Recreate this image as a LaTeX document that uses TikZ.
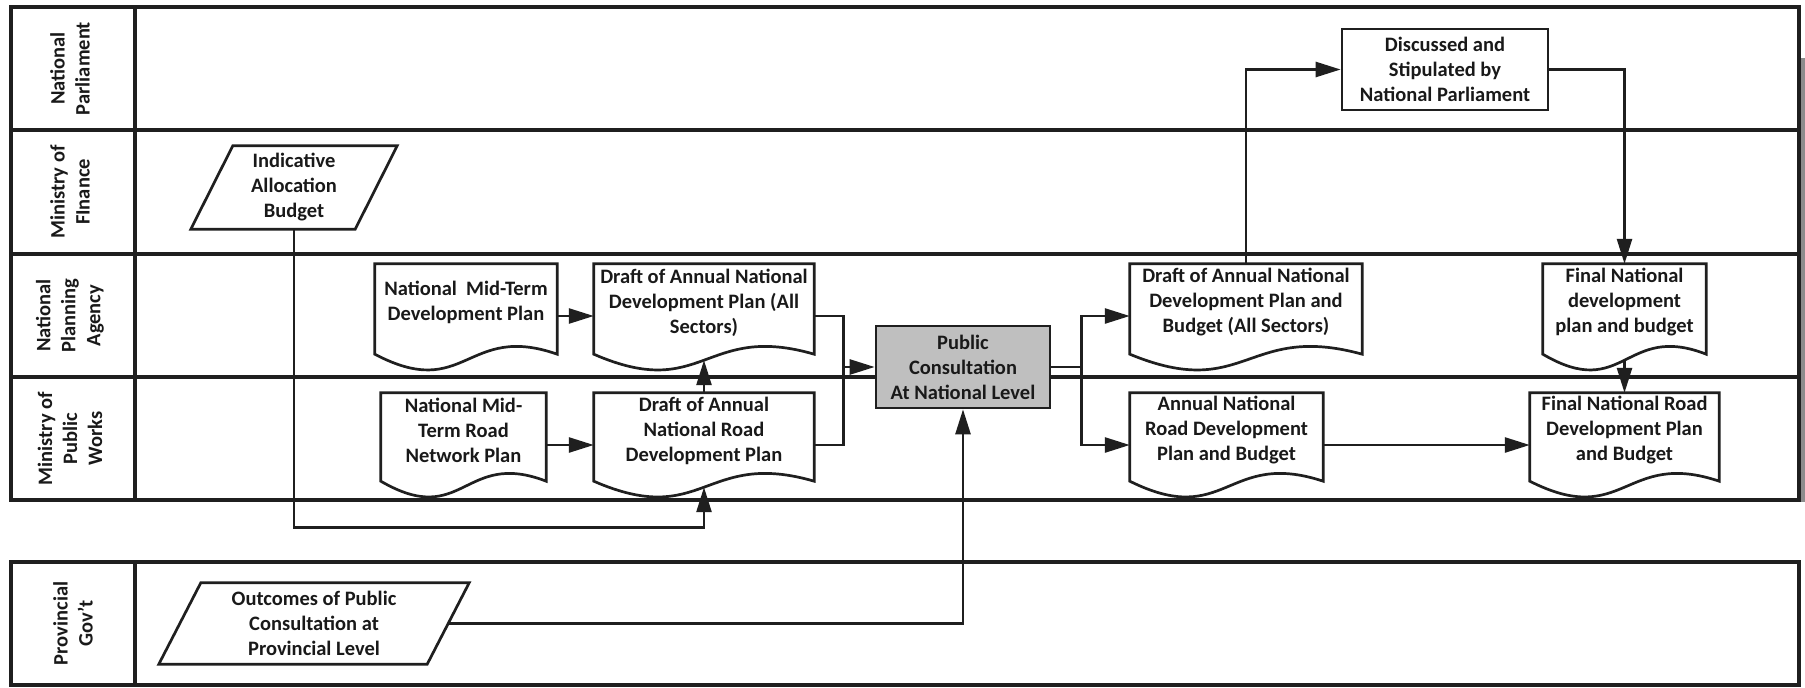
\documentclass[tikz,border=0pt]{standalone}
\usepackage{fontspec}
\setmainfont{Carlito}
\usetikzlibrary{arrows.meta,calc}
\newcommand{\docnode}[7]{%
  \node[box, minimum width=#4, minimum height=#5] (#1) at (#2,#3) {};
  \draw[shp] (#1.north west) -- (#1.north east) -- (#1.south east)
     .. controls ($(#1.south)+(0,-32)$) and ($(#1.south)+(0,48)$) .. (#1.south west) -- cycle;
  \node[txt] (#1-t) at ($(#1.center)+(0,#6)$) {#7};
}
\newcommand{\paranode}[6]{%
  \node[box, minimum width=#4, minimum height=#5] (#1) at (#2,#3) {};
  \draw[shp] ($(#1.north west)+(21,0)$) -- ($(#1.north east)+(21,0)$) -- ($(#1.south east)+(-21,0)$) -- ($(#1.south west)+(-21,0)$) -- cycle;
  \node[txt] (#1-t) at (#1.center) {#6};
}
\begin{document}
\begin{tikzpicture}[x=1pt,y=-1pt,
  lane/.style={line width=3.1pt, draw=black!88},
  shp/.style={line width=2.7pt, draw=black!88, fill=white},
  conn/.style={line width=2.6pt, draw=black!88},
  arr/.style={conn, -{Triangle[length=25pt,width=15pt]}},
  txt/.style={font=\fontsize{20.5}{25}\selectfont\bfseries, text=black!90, align=center},
  lbl/.style={txt, rotate=90},
  box/.style={rectangle, inner sep=0pt},
]
\useasboundingbox (0,0) rectangle (1805,688);
\fill[white] (0,0) rectangle (1805,688);

% shadow on the right edge
\fill[black!45] (1800,58) rectangle (1805,502);

% swimlanes
\draw[lane] (11,7) rectangle (1799,500);
\draw[lane] (11,130) -- (1799,130);
\draw[lane] (11,254) -- (1799,254);
\draw[lane] (11,377) -- (1799,377);
\draw[lane] (135,7) -- (135,500);
\draw[lane] (11,562) rectangle (1799,685);
\draw[lane] (135,562) -- (135,685);

\node[lbl] (l1) at (70,68.5) {National\\Parliament};
\node[lbl] (l2) at (70,192) {Ministry of\\FInance};
\node[lbl] (l3) at (70,315.5) {National\\Planning\\Agency};
\node[lbl] (l4) at (70,438.5) {Ministry of\\Public\\Works};
\node[lbl] (l5) at (73,623.5) {Provincial\\Gov’t};

% shapes
\paranode{ind}{294}{187.5}{164}{83}{Indicative\\Allocation\\Budget}
\paranode{out}{314}{623.5}{268}{81}{Outcomes of Public\\Consultation at\\Provincial Level}

\docnode{mtdp}{466}{309}{182}{90}{-6.5}{National\ \ Mid-Term\\Development Plan}
\docnode{dANDP}{704}{309}{220}{90}{-6.5}{Draft of Annual National\\Development Plan (All\\Sectors)}
\docnode{dANDPB}{1246}{309}{232}{90}{-6.5}{Draft of Annual National\\Development Plan and\\Budget (All Sectors)}
\docnode{fndpb}{1624.5}{309}{163}{90}{-6.5}{Final National\\development\\plan and budget}

\docnode{mtrn}{463.5}{437}{165}{88}{-6.5}{National Mid-\\Term Road\\Network Plan}
\docnode{dANRDP}{704}{437}{220}{88}{-6.5}{Draft of Annual\\National Road\\Development Plan}
\docnode{anrdpb}{1226.5}{437}{193}{88}{-6.5}{Annual National\\Road Development\\Plan and Budget}
\docnode{fnrdpb}{1624.5}{437}{189}{88}{-6.5}{Final National Road\\Development Plan\\and Budget}

\node[txt, shp, inner sep=0pt, minimum width=206, minimum height=81] (disc) at (1445,69.5) {Discussed and\\Stipulated by\\National Parliament};
\node[txt, shp, fill={rgb,255:red,191;green,191;blue,191}, inner sep=0pt, minimum width=174, minimum height=82] (pc) at (963,367) {Public\\Consultation\\At National Level};

% connectors
\draw[arr] ($(mtdp.east)+(0,7)$) -- ($(dANDP.west)+(0,7)$);
\draw[arr] ($(mtrn.east)+(0,8)$) -- ($(dANRDP.west)+(0,8)$);
\draw[arr] (dANRDP.north) -- ($(dANDP.south)+(0,6)$);
\draw[arr] (ind.south) -- ++(0,298) -| ($(dANRDP.south)+(0,6)$);
\draw[arr] ($(dANDP.east)+(0,7)$) -| ($(pc.west)+(-31,0)$) -- (pc.west);
\draw[conn] ($(dANRDP.east)+(0,8)$) -| ($(pc.west)+(-31,0)$);
\draw[arr] (pc.east) -- ++(30,0) |- ($(dANDPB.west)+(0,7)$);
\draw[arr] (pc.east) -- ++(30,0) |- ($(anrdpb.west)+(0,8)$);
\draw[arr] (out.east) -| (pc.south);
\draw[arr] (dANDPB.north) |- (disc.west);
\draw[arr] (disc.east) -| (fndpb.north);
\draw[arr] ($(fndpb.south)+(0,6)$) -- (fnrdpb.north);
\draw[arr] ($(anrdpb.east)+(0,8)$) -- ($(fnrdpb.west)+(0,8)$);
\end{tikzpicture}
\end{document}
